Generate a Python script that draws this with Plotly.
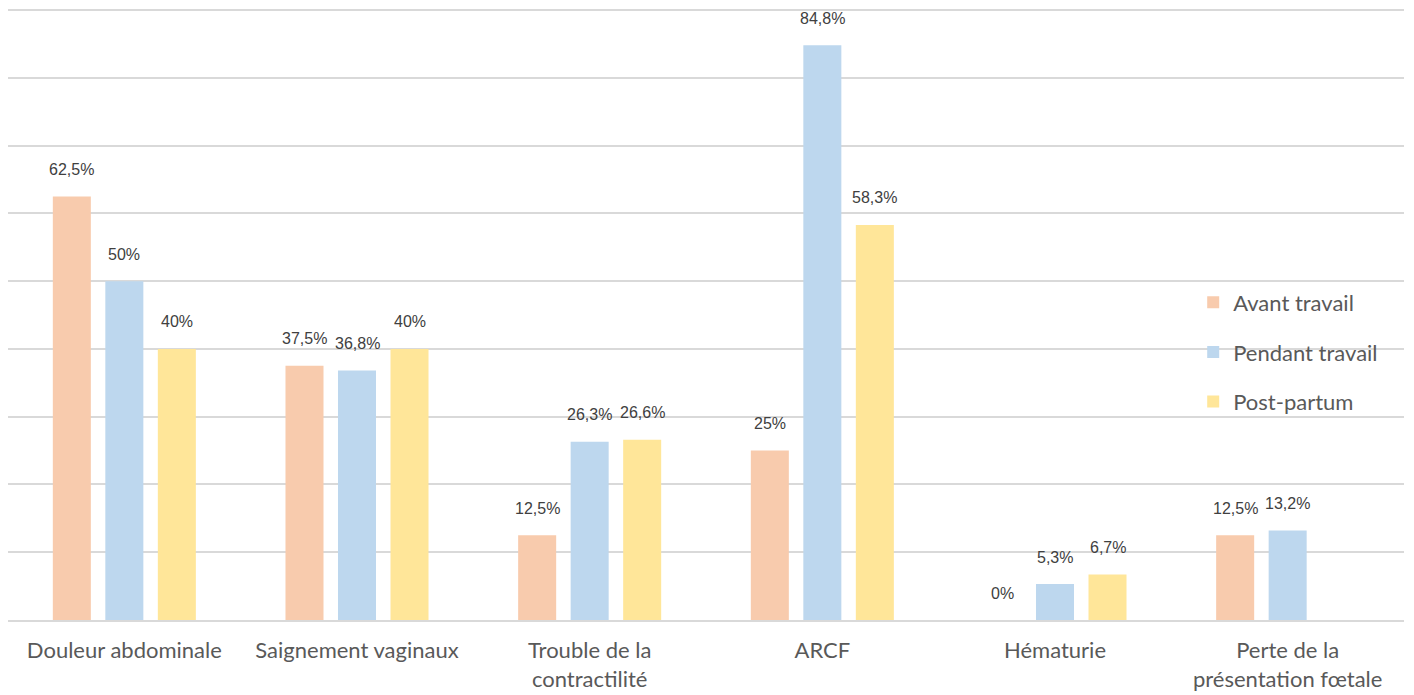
import plotly.graph_objects as go

# Categories and series values (percent)
categories = ['Douleur abdominale', 'Saignement vaginaux', 'Trouble de la<br>contractilité',
              'ARCF', 'Hématurie', 'Perte de la<br>présentation fœtale']
avant_travail = [62.5, 37.5, 12.5, 25, 0, 12.5]
pendant_travail = [50, 36.8, 26.3, 84.8, 5.3, 13.2]
post_partum = [40, 40, 26.6, 58.3, 6.7, None]

series_names = ['Avant travail', 'Pendant travail', 'Post-partum']
series_colors = ['#F8CBAD', '#BDD7EE', '#FFE699']


def fmt(v):
    # French decimal comma, integers without decimals
    if v is None:
        return ''
    if float(v).is_integer():
        return f"{int(v)}%"
    return f"{v:.1f}".replace('.', ',') + '%'


def create_chart():
    fig = go.Figure()
    all_series = [avant_travail, pendant_travail, post_partum]

    for name, color, values in zip(series_names, series_colors, all_series):
        fig.add_trace(go.Bar(
            x=categories,
            y=values,
            name=name,
            marker_color=color,
            marker_line_width=0,
            legendgroup=name,
        ))

    # Data labels above the bars, offset per series inside each group
    slot_px = 52.5
    for i, values in enumerate(all_series):
        for cat, v in zip(categories, values):
            if v is None:
                continue
            fig.add_annotation(
                x=cat, y=v, text=fmt(v),
                xref='x', yref='y',
                xshift=(i - 1) * slot_px, yshift=27,
                showarrow=False,
                font=dict(family='Liberation Sans, Arial', size=16, color='#404040'),
            )

    # page body adds an 8px offset, margins compensate for it
    fig.update_layout(
        width=1414, height=695,
        margin=dict(l=0, r=18, t=0, b=83),
        plot_bgcolor='white',
        paper_bgcolor='white',
        barmode='group',
        bargap=0.323,
        bargroupgap=0.276,
        font=dict(family='Lato, Calibri, sans-serif', color='#595959'),
        legend=dict(
            x=0.849, y=0.553, xanchor='left', yanchor='top',
            font=dict(size=22, color='#595959'),
            bgcolor='rgba(0,0,0,0)',
            tracegroupgap=18,
            itemwidth=30,
        ),
    )
    fig.update_xaxes(
        showgrid=False,
        showline=True, linecolor='#D9D9D9', linewidth=2,
        ticks='',
        ticklabelstandoff=10,
        tickfont=dict(size=22, color='#595959'),
    )
    fig.update_yaxes(
        range=[0, 90.3], dtick=10,
        showgrid=True, gridcolor='#D9D9D9', gridwidth=1.5,
        showticklabels=False, zeroline=False,
    )
    return fig


fig = create_chart()
fig.write_html("out.html")
